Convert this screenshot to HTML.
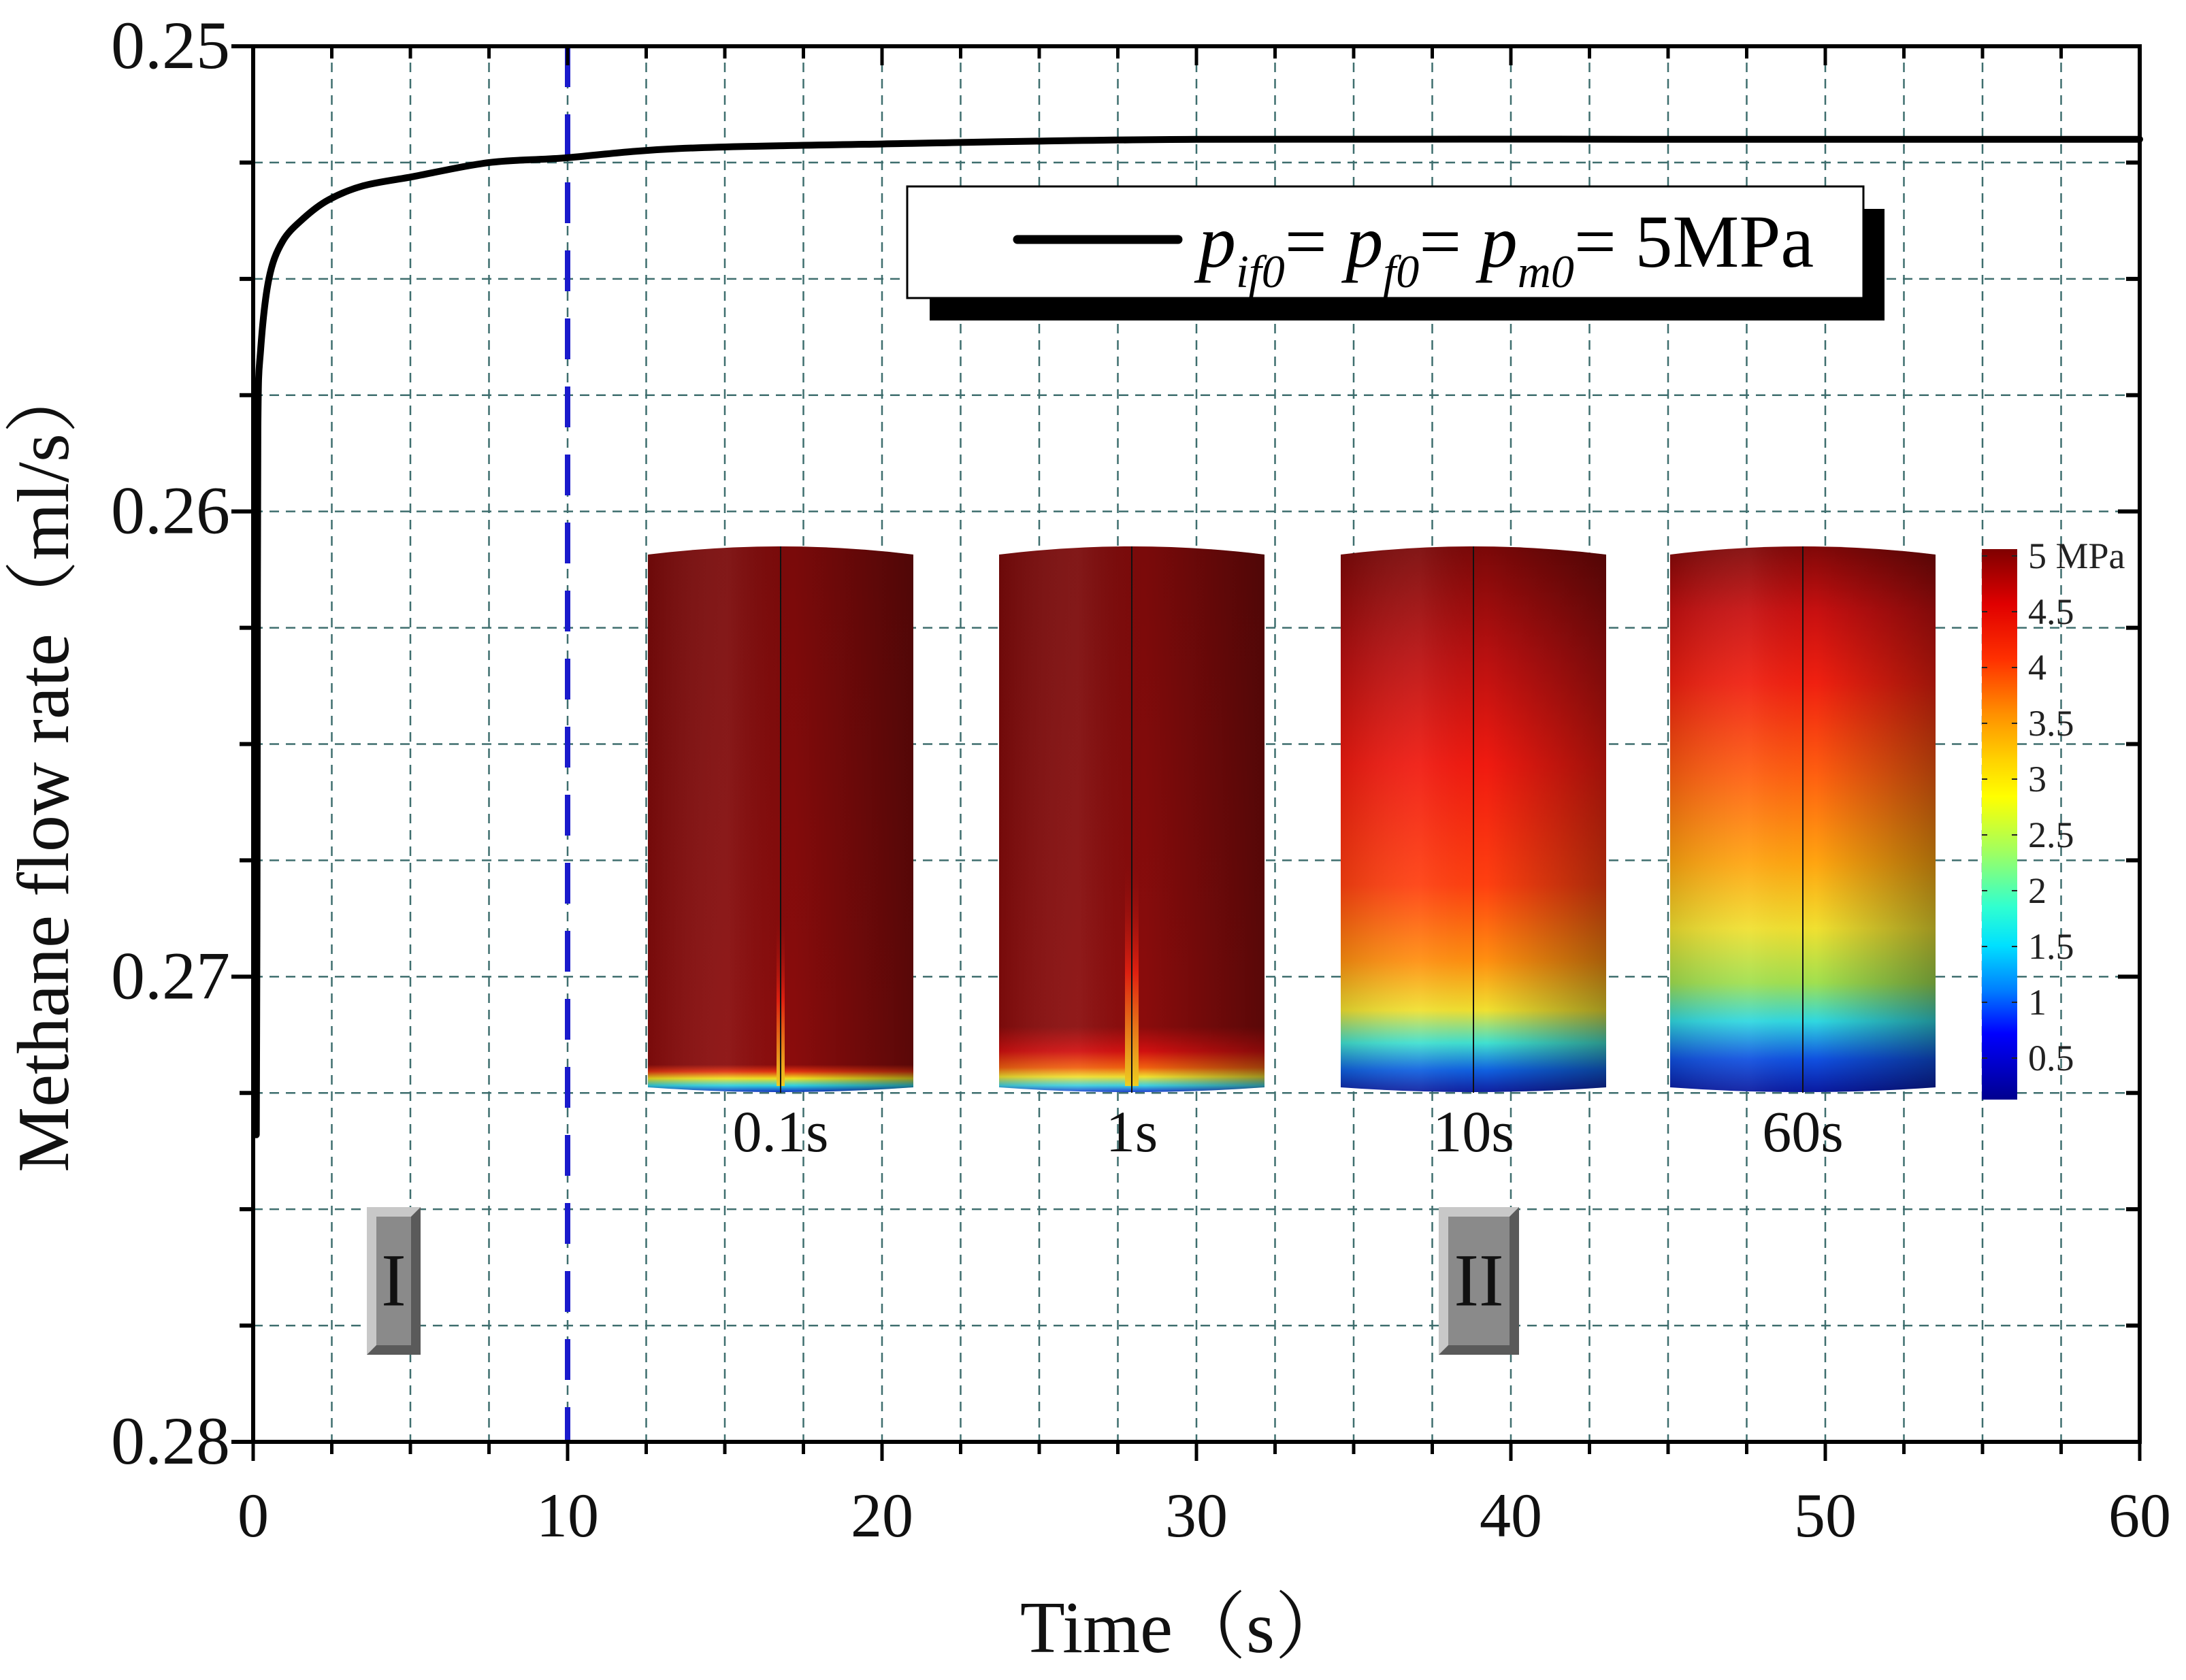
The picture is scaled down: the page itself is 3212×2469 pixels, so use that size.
<!DOCTYPE html>
<html><head><meta charset="utf-8"><style>
html,body{margin:0;padding:0;background:#fff}
svg{display:block}
text{font-family:"Liberation Serif","Noto Serif CJK SC",serif}
</style></head><body>
<svg id="chart" xmlns="http://www.w3.org/2000/svg" width="3212" height="2469" viewBox="0 0 3212 2469">
<defs>
<linearGradient id="g0" x1="0" y1="0" x2="0" y2="1"><stop offset="0" stop-color="#7a0a0a"/><stop offset="0.95" stop-color="#8a0c0c"/><stop offset="0.962" stop-color="#e03010"/><stop offset="0.975" stop-color="#f0e020"/><stop offset="0.988" stop-color="#30d0e0"/><stop offset="1" stop-color="#1030c0"/></linearGradient>
<linearGradient id="g1" x1="0" y1="0" x2="0" y2="1"><stop offset="0" stop-color="#7a0a0a"/><stop offset="0.88" stop-color="#8a0c0c"/><stop offset="0.925" stop-color="#d01010"/><stop offset="0.955" stop-color="#f06010"/><stop offset="0.972" stop-color="#f0e030"/><stop offset="0.988" stop-color="#40d0e0"/><stop offset="1" stop-color="#2040d0"/></linearGradient>
<linearGradient id="g2" x1="0" y1="0" x2="0" y2="1"><stop offset="0" stop-color="#7a0808"/><stop offset="0.2" stop-color="#b81010"/><stop offset="0.4" stop-color="#f01a10"/><stop offset="0.62" stop-color="#ff4010"/><stop offset="0.76" stop-color="#ff9010"/><stop offset="0.85" stop-color="#f0e030"/><stop offset="0.91" stop-color="#40e0d0"/><stop offset="0.96" stop-color="#1060e0"/><stop offset="1" stop-color="#1020a0"/></linearGradient>
<linearGradient id="g3" x1="0" y1="0" x2="0" y2="1"><stop offset="0" stop-color="#800808"/><stop offset="0.12" stop-color="#c81010"/><stop offset="0.25" stop-color="#f02010"/><stop offset="0.42" stop-color="#ff6010"/><stop offset="0.58" stop-color="#ffa510"/><stop offset="0.7" stop-color="#f0e030"/><stop offset="0.8" stop-color="#a0e050"/><stop offset="0.87" stop-color="#30d8e0"/><stop offset="0.94" stop-color="#1050e0"/><stop offset="1" stop-color="#0a1aa0"/></linearGradient>
<linearGradient id="shade" x1="0" y1="0" x2="1" y2="0"><stop offset="0" stop-color="#000" stop-opacity="0.12"/><stop offset="0.3" stop-color="#fff" stop-opacity="0.06"/><stop offset="0.55" stop-color="#000" stop-opacity="0"/><stop offset="1" stop-color="#000" stop-opacity="0.35"/></linearGradient>
<linearGradient id="jet" x1="0" y1="0" x2="0" y2="1"><stop offset="0" stop-color="#7f0000"/><stop offset="0.1" stop-color="#e00000"/><stop offset="0.2" stop-color="#ff3000"/><stop offset="0.3" stop-color="#ff9000"/><stop offset="0.38" stop-color="#ffd000"/><stop offset="0.45" stop-color="#ffff00"/><stop offset="0.55" stop-color="#a0ff60"/><stop offset="0.65" stop-color="#30ffd0"/><stop offset="0.72" stop-color="#00e0ff"/><stop offset="0.8" stop-color="#0080ff"/><stop offset="0.88" stop-color="#0000ff"/><stop offset="1" stop-color="#00008f"/></linearGradient>
<linearGradient id="spike" x1="0" y1="0" x2="0" y2="1"><stop offset="0" stop-color="#8a0c0c" stop-opacity="0"/><stop offset="0.5" stop-color="#e02010"/><stop offset="1" stop-color="#f0d020"/></linearGradient>
</defs>
<g id="grid"></g>
<g id="insets"></g>
<g id="marks"></g>
<g id="axes"></g>
</svg>
<script>
const xTicks = [0,10,20,30,40,50,60];
const yTicks = [0.25,0.26,0.27,0.28];
const yTickLabels = ["0.25","0.26","0.27","0.28"];
const times = [0.1,0.12,0.13,0.15,0.24,0.5,0.93,1.6,2.4,3.5,5.1,7.5,9.9,13.5,20,30,45,60];
const flow = [0.2734,0.2690,0.2650,0.2582,0.2565,0.2550,0.2542,0.2537,0.2533,0.2530,0.2528,0.2525,0.2524,0.2522,0.2521,0.2520,0.2520,0.2520];
const dividerTime = [10];
const insetLabels = ["0.1s","1s","10s","60s"];
const cbLabels = ["5","4.5","4","3.5","3","2.5","2","1.5","1","0.5"];

const NS="http://www.w3.org/2000/svg";
const L=372,R=3144,T=68,B=2119;
const xs=t=>L+(t-0)/(60-0)*(R-L);
const ys=v=>T+(v-0.25)/(0.28-0.25)*(B-T);
function mk(tag,at,parent){const e=document.createElementNS(NS,tag);for(const k in at)e.setAttribute(k,at[k]);parent.appendChild(e);return e;}
const grid=document.getElementById('grid'),axes=document.getElementById('axes'),marks=document.getElementById('marks'),insets=document.getElementById('insets');

for(let t=2.5;t<60;t+=2.5){const e=mk('line',{x1:xs(t),x2:xs(t),y1:T,y2:B,stroke:'#3e6e6e','stroke-width':2.5,'stroke-dasharray':'14 10'},grid);

}
for(let v=0.2525;v<0.28;v+=0.0025){const e=mk('line',{x1:L,x2:R,y1:ys(v),y2:ys(v),stroke:'#3e6e6e','stroke-width':2.5,'stroke-dasharray':'14 10'},grid);

}

const cx0=[952,1468,1970,2454],cw=390,cy0=803,cy1=1604;
const grads=['g0','g1','g2','g3'];
for(let i=0;i<4;i++){
 const x0=cx0[i],x1=x0+cw,c=x0+cw/2;
 const d=`M${x0},${cy0+12} Q${c},${cy0-12} ${x1},${cy0+12} L${x1},${cy1-6} Q${c},${cy1+8} ${x0},${cy1-6} Z`;
 const g=mk('g',{},insets);
 
 
 mk('path',{d:d,fill:'url(#'+grads[i]+')'},g);
 if(i<2){const w=i==0?12:20,h=i==0?260:340;mk('rect',{x:c-w/2,y:cy1-h,width:w,height:h-8,fill:'url(#spike)'},g);}
 mk('path',{d:d,fill:'url(#shade)'},g);
 mk('line',{x1:c,x2:c,y1:cy0,y2:cy1+2,stroke:'#111','stroke-width':2},g);
 const tx=mk('text',{x:c,y:1692,'font-size':86,'text-anchor':'middle',fill:'#111'},insets);
 tx.textContent=insetLabels[i];
 
 
}
const cb=mk('rect',{x:2912,y:807,width:52,height:809,fill:'url(#jet)'},insets);


cbLabels.forEach((s,i)=>{const y=813+i*82;
 mk('line',{x1:2912,x2:2920,y1:y+4,y2:y+4,stroke:'#222','stroke-width':2},insets);
 mk('line',{x1:2956,x2:2964,y1:y+4,y2:y+4,stroke:'#222','stroke-width':2},insets);
 const t=mk('text',{x:2980,y:y+22,'font-size':54,fill:'#222','font-family':'DejaVu Sans, sans-serif'},insets);
 t.textContent=s+(i==0?' ':'');
 
 
 if(i==0){const m=mk('tspan',{'font-family':'Liberation Serif, serif','font-size':54},t);m.textContent='MPa';}
});

function regionBox(x,w,label,name){
 const y=1774,h=217,b=14;
 const g=mk('g',{},marks);
 
 
 mk('rect',{x:x,y:y,width:w,height:h,fill:'#5a5a5a'},g);
 mk('polygon',{points:`${x},${y} ${x+w},${y} ${x+w-b},${y+b} ${x+b},${y+b} ${x+b},${y+h-b} ${x},${y+h}`,fill:'#c8c8c8'},g);
 mk('rect',{x:x+b,y:y+b,width:w-2*b,height:h-2*b,fill:'#8a8a8a'},g);
 const t=mk('text',{x:x+w/2,y:y+h/2+36,'font-size':110,'text-anchor':'middle',fill:'#111'},g);t.textContent=label;
}
regionBox(539,79,'I','region-I-label');
regionBox(2114,118,'II','region-II-label');

dividerTime.forEach(t=>{const e=mk('line',{x1:xs(t),x2:xs(t),y1:T,y2:B,stroke:'#1a1acc','stroke-width':8,'stroke-dasharray':'60 40'},marks);

});

const pts=times.map((t,i)=>[xs(t),ys(flow[i])]);
let d='M'+pts[0][0]+','+pts[0][1];
for(let i=0;i<pts.length-1;i++){
 const p0=pts[Math.max(0,i-1)],p1=pts[i],p2=pts[i+1],p3=pts[Math.min(pts.length-1,i+2)];
 const c1x=p1[0]+(p2[0]-p0[0])/6,c1y=p1[1]+(p2[1]-p0[1])/6;
 const c2x=p2[0]-(p3[0]-p1[0])/6,c2y=p2[1]-(p3[1]-p1[1])/6;
 d+=` C${c1x},${c1y} ${c2x},${c2y} ${p2[0]},${p2[1]}`;
}
const curve=mk('path',{d:d,fill:'none',stroke:'#000','stroke-width':10,'stroke-linejoin':'round','stroke-linecap':'round'},marks);



const lg=mk('g',{},marks);


mk('rect',{x:1366,y:307,width:1403,height:164,fill:'#000'},lg);
mk('rect',{x:1333,y:274,width:1405,height:164,fill:'#fff',stroke:'#000','stroke-width':3},lg);
const ls=mk('line',{x1:1495,x2:1731,y1:352,y2:352,stroke:'#000','stroke-width':13,'stroke-linecap':'round'},lg);


const lt=mk('text',{x:1761,y:392,'font-size':110,fill:'#000'},lg);


const parts=[['p',1,0],['if0',2,30],['= ',0,-30],['p',1,0],['f0',2,30],['= ',0,-30],['p',1,0],['m0',2,30],['= 5MPa',0,-30]];
parts.forEach(p=>{const at={dy:p[2]};if(p[1]>0)at['font-style']='italic';if(p[1]==2)at['font-size']=68;const ts=mk('tspan',at,lt);ts.textContent=p[0];});

const fr=mk('rect',{x:L,y:T,width:R-L,height:B-T,fill:'none',stroke:'#000','stroke-width':6},axes);


for(let t=0;t<=60;t+=2.5){const maj=(t%10===0);
 mk('line',{x1:xs(t),x2:xs(t),y1:B,y2:B+(maj?28:18),stroke:'#000','stroke-width':5},axes);
 mk('line',{x1:xs(t),x2:xs(t),y1:T,y2:T+(maj?28:18),stroke:'#000','stroke-width':5},axes);}
for(let k=0;k<=12;k++){const v=0.25+k*0.0025;const maj=(k%4===0);
 mk('line',{x1:L,x2:L-(maj?32:20),y1:ys(v),y2:ys(v),stroke:'#000','stroke-width':6},axes);
 mk('line',{x1:R,x2:R-(maj?32:20),y1:ys(v),y2:ys(v),stroke:'#000','stroke-width':6},axes);}
xTicks.forEach(t=>{const e=mk('text',{x:xs(t),y:2258,'font-size':92,'text-anchor':'middle',fill:'#111'},axes);e.textContent=String(t);

});
yTicks.forEach((v,i)=>{const e=mk('text',{x:338,y:ys(v)+32,'font-size':100,'text-anchor':'end',fill:'#111'},axes);e.textContent=yTickLabels[i];

});
const xt=mk('text',{x:1740,y:2428,'font-size':108,'text-anchor':'middle',fill:'#111'},axes);xt.textContent='Time（s）';


const yt=mk('text',{x:0,y:0,'font-size':108,'text-anchor':'middle',fill:'#111',transform:'translate(100,1126) rotate(-90)'},axes);yt.textContent='Methane flow rate（ml/s）';


</script>
</body></html>
